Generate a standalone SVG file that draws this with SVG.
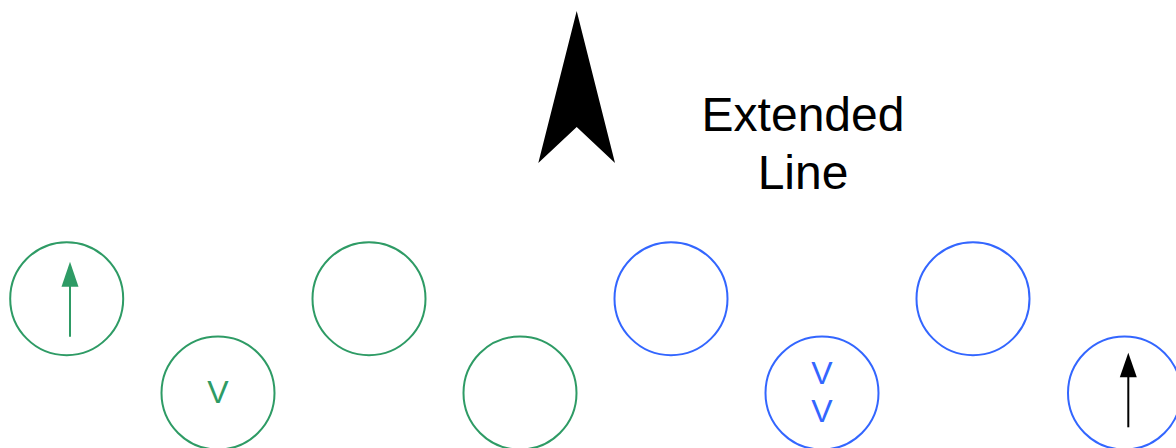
<svg xmlns="http://www.w3.org/2000/svg" width="1176" height="448" viewBox="0 0 1176 448">
<style>
.g{fill:none;stroke:#2e9b65;stroke-width:2}
.b{fill:none;stroke:#3366ff;stroke-width:2}
.t{font-family:"Liberation Sans",Arial,sans-serif;text-anchor:middle}
</style>
<rect width="1176" height="448" fill="#fff"/>
<g id="north-arrow"><polygon points="576.7,11 615,163 576.7,127 538.3,163" fill="#000"/></g>
<g id="label"><text class="t" x="803" y="131" font-size="48">Extended</text><text class="t" x="803" y="189" font-size="48">Line</text></g>
<g id="n1"><circle class="g" cx="66.7" cy="298.7" r="56.5"/></g>
<g id="n2"><circle class="g" cx="218" cy="393" r="56.5"/><text class="t" x="218" y="403" font-size="32" fill="#2e9b65">V</text></g>
<g id="n3"><circle class="g" cx="369" cy="298.7" r="56.5"/></g>
<g id="n4"><circle class="g" cx="520" cy="393" r="56.5"/></g>
<g id="n5"><circle class="b" cx="671" cy="298.7" r="56.5"/></g>
<g id="n6"><circle class="b" cx="822" cy="393" r="56.5"/><text class="t" x="822" y="383.5" font-size="32" fill="#3366ff">V</text><text class="t" x="822" y="422" font-size="32" fill="#3366ff">V</text></g>
<g id="n7"><circle class="b" cx="973" cy="298.7" r="56.5"/></g>
<g id="n8"><circle class="b" cx="1124.5" cy="393" r="56.5"/></g>
<g id="connectors">
<line x1="70" y1="336.7" x2="70" y2="285" stroke="#2e9b65" stroke-width="2"/>
<polygon points="70,261.7 78.5,286.7 61.5,286.7" fill="#2e9b65"/>
<line x1="1128.3" y1="427.3" x2="1128.3" y2="376" stroke="#000" stroke-width="2"/>
<polygon points="1128.3,352.7 1136.8,377.3 1119.8,377.3" fill="#000"/>
</g>
</svg>
